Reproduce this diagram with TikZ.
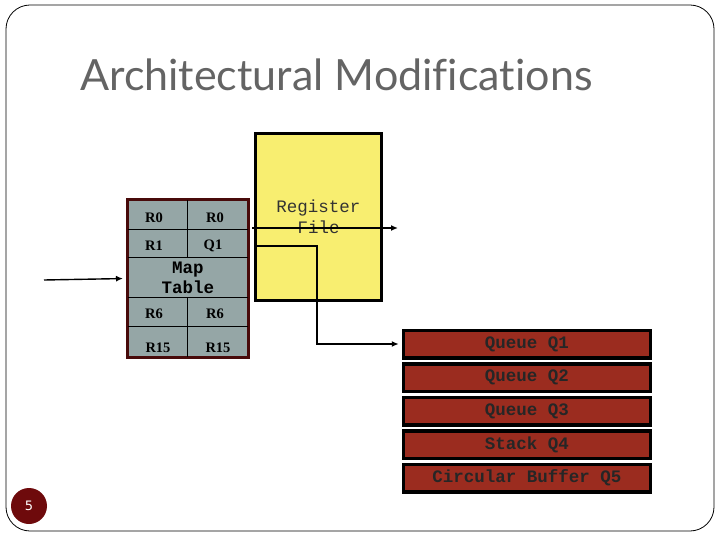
\documentclass[tikz,border=0pt]{standalone}
\usepackage{fontspec}
\setmainfont{Liberation Serif}
\newfontfamily\monofont{Liberation Mono}
\newfontfamily\titlefont[Ligatures=NoCommon]{Lato}
\newfontfamily\numfont{DejaVu Sans}
\usetikzlibrary{positioning,arrows.meta}
\definecolor{mapgray}{RGB}{149,166,166}
\definecolor{mapedge}{RGB}{72,10,10}
\definecolor{regyellow}{RGB}{248,238,112}
\definecolor{qred}{RGB}{155,44,31}
\definecolor{pagered}{RGB}{110,10,12}
\definecolor{titlegray}{RGB}{100,100,100}
\begin{document}
\begin{tikzpicture}[x=1pt,y=-1pt,
    maptab/.style={draw=mapedge,fill=mapgray,line width=3pt,minimum width=121pt,minimum height=158pt,inner sep=0pt},
    regbox/.style={draw=black,fill=regyellow,line width=3pt,minimum width=126pt,minimum height=167pt,inner sep=0pt,
        font=\monofont\fontsize{17.5}{21}\selectfont,text=black!80,align=center},
    qbox/.style={draw=black,fill=qred,line width=3.5pt,minimum width=247pt,minimum height=27.5pt,inner sep=0pt,
        font=\monofont\bfseries\fontsize{17.5}{21}\selectfont,text=black!85},
    cell/.style={font=\bfseries\fontsize{14.5}{16}\selectfont,inner sep=0pt},
    wire/.style={line width=1.4pt},
    tip/.style={wire,-{Latex[length=7pt,width=6pt]},shorten >=3pt}]
  \useasboundingbox (0,0) rectangle (720,540);
  % slide frame and title
  \draw[rounded corners=24pt,line width=0.8pt] (6,5) rectangle (714,531);
  \node[anchor=base west,inner sep=0pt,text=titlegray,font=\titlefont\fontsize{43}{46}\selectfont] (title) at (80,91) {Architectural Modifications};

  % map table
  \node[maptab] (map) at (188,278.5) {};
  \draw[line width=0.8pt] (128,229) -- (248,229);
  \draw[line width=0.8pt] (128,257) -- (248,257);
  \draw[line width=0.8pt] (128,297) -- (248,297);
  \draw[line width=0.8pt] (128,326) -- (248,326);
  \draw[line width=0.8pt] (187,200) -- (187,257);
  \draw[line width=0.8pt] (187,297) -- (187,357);
  \node[cell] (r0a) at (154,218) {R0};
  \node[cell] (r0b) at (215,218) {R0};
  \node[cell] (r1) at (154,246) {R1};
  \node[cell] (q1m) at (213,246) {Q1};
  \node[font=\monofont\bfseries\fontsize{17.5}{20}\selectfont,align=center,inner sep=0pt] (mtlabel) at (188,278) {Map\\Table};
  \node[cell] (r6a) at (154,314) {R6};
  \node[cell] (r6b) at (215,314) {R6};
  \node[cell] (r15a) at (158,348) {R15};
  \node[cell] (r15b) at (218,348) {R15};
  \coordinate (in) at (44,280);
  \draw[tip] (in) -- (map.west);

  % register file
  \node[regbox] (reg) at (318.5,217) {Register\\File};
  \coordinate (rin) at (252,228);
  \coordinate (rout) at (398,228);
  \draw[wire,-{Latex[length=7pt,width=6pt]}] (rin) -- (rout);
  \coordinate (qin) at (257,246);
  \coordinate (bend) at (317,246);

  % queues
  \node[qbox] (q1) at (527,344) {Queue Q1};
  \node[qbox,below=2.5pt of q1] (q2) {Queue Q2};
  \node[qbox,below=2.5pt of q2] (q3) {Queue Q3};
  \node[qbox,below=2.5pt of q3] (q4) {Stack Q4};
  \node[qbox,below=2.5pt of q4] (q5) {Circular Buffer Q5};
  \draw[tip] (qin) -- (bend) |- (q1.west);

  % page number
  \node[circle,fill=pagered,minimum size=36pt,inner sep=0pt,text=white,font=\numfont\fontsize{13}{15}\selectfont] (page) at (29,506) {5};
\end{tikzpicture}
\end{document}
